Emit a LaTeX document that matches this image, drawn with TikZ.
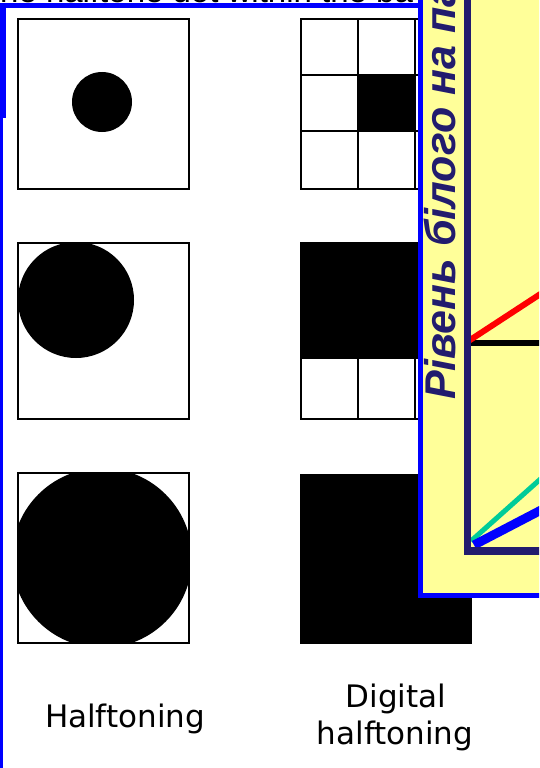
\documentclass[tikz,border=0pt]{standalone}
\usepackage{fontspec}
\setmainfont{Liberation Sans}
\newfontfamily\capfont{DejaVu Sans}
\usetikzlibrary{positioning}
\definecolor{slideblue}{RGB}{0,0,255}
\definecolor{slideyellow}{RGB}{255,255,153}
\definecolor{axisnavy}{RGB}{34,28,110}
\definecolor{lineteal}{RGB}{0,204,153}
\definecolor{linered}{RGB}{255,0,0}

\begin{document}
\begin{tikzpicture}[
    x=1pt, y=-1pt,
    cellbox/.style={draw=black, line width=2pt},
    inkdot/.style={fill=black},
    captext/.style={font=\capfont\fontsize{31}{31}\selectfont, inner sep=0pt, anchor=base},
    axisline/.style={draw=axisnavy, line width=7pt},
    plotline/.style={line width=6pt},
    ylab/.style={font=\fontsize{43}{43}\selectfont\bfseries\itshape, text=axisnavy, rotate=90, anchor=base west, inner sep=0pt},
]
\useasboundingbox (0,0) rectangle (539,768);
\clip (0,0) rectangle (539,768);
\fill[white] (0,0) rectangle (539,768);

% cut-off title of the halftone slide
\node[font=\fontsize{33}{33}\selectfont, anchor=base west, inner sep=0pt] (title) at (0,3) {he halftone dot within the ba};

% frame of the halftone slide
\fill[slideblue] (0,3) rectangle (418,8);
\fill[slideblue] (0,3) rectangle (6,118);
\fill[slideblue] (0,118) rectangle (3,768);

% halftoning: growing dots
\begin{scope}
  \clip (18,19) rectangle (189,189);
  \fill[inkdot] (102,102) circle[radius=30pt];
\end{scope}
\draw[cellbox] (18,19) rectangle (189,189);

\begin{scope}
  \clip (18,243) rectangle (189,419);
  \fill[inkdot] (76,300) circle[radius=58pt];
\end{scope}
\draw[cellbox] (18,243) rectangle (189,419);

\begin{scope}
  \clip (18,473) rectangle (189,643);
  \fill[inkdot] (102,558) circle[radius=90pt];
\end{scope}
\draw[cellbox] (18,473) rectangle (189,643);

% digital halftoning: 3x3 cells
\fill[inkdot] (358,75) rectangle (415,131);
\draw[cellbox] (358,19) -- (358,189) (415,19) -- (415,189);
\draw[cellbox] (301,75) -- (472,75) (301,131) -- (472,131);
\draw[cellbox] (301,19) rectangle (472,189);

\fill[inkdot] (301,243) rectangle (472,358);
\draw[cellbox] (301,358) rectangle (472,419);
\draw[cellbox] (358,358) -- (358,419);
\draw[cellbox] (415,358) -- (415,419);
\draw[cellbox] (301,243) rectangle (472,419);

\fill[inkdot] (300,474) rectangle (472,644);

% captions
\node[captext] (half) at (125,727) {Halftoning};
\node[captext] (digi) at (396,707) {Digital};
\node[captext] (dhalf) at (395,744) {halftoning};

% overlapping chart slide
\fill[slideyellow] (418,-5) rectangle (545,598);
\fill[slideblue] (418,-5) rectangle (423,598);
\fill[slideblue] (418,593) rectangle (545,598);

\draw[plotline, black] (470,343) -- (545,343);
\draw[plotline, linered] (467,342) -- (545,291);
\draw[plotline, lineteal, line width=5pt] (471,541) -- (545,475);
\draw[plotline, slideblue, line width=9pt] (474,545) -- (545,508);
\draw[axisline] (467.5,-5) -- (467.5,551);
\draw[axisnavy, line width=8pt] (464,551) -- (545,551);

\node[ylab] (ylabel) at (455,400) {Рівень білого на па};

\end{tikzpicture}
\end{document}
